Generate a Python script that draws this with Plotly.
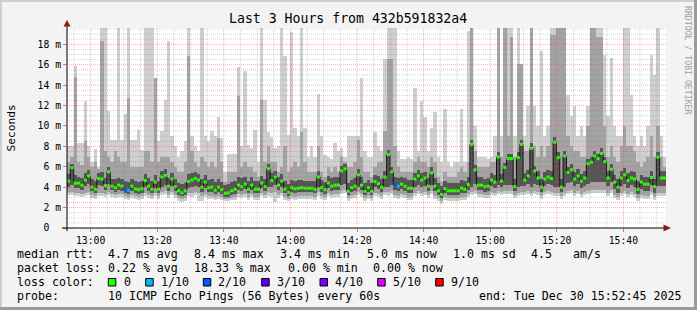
import plotly.graph_objects as go
from datetime import datetime, timedelta

# ---------------- data (one column per minute, values in ms) ----------------
median = [
 4.6,5.9,4.4,4.4,4.2,4.7,5.1,4.0,3.8,4.85, 4.8,4.15,5.5,4.1,3.95,4.2,4.1,3.8,3.7,4.1,
 3.85,3.75,3.85,4.65,4.1,3.8,4.5,3.8,5.0,5.15, 4.1,4.8,4.05,3.65,3.45,3.65,4.55,4.7,4.85,4.7,
 4.0,4.5,3.95,4.0,3.7,
 4.0,3.75,3.4,3.45,3.65, 3.8,4.2,4.05,4.3,3.8, 4.2,3.8,3.8,4.4,4.05, 5.8,4.65,5.0,4.2,4.6,
 3.8,3.5,3.95,3.85,3.9, 3.95,3.9,3.9,3.9,3.8, 5.0,3.95,3.75,4.4,4.1, 4.2,4.2,5.6,5.8,3.6,
 3.95,4.1,5.2,4.2,3.6,
 3.95,3.6,4.55,4.35,4.0, 5.0,7.2,5.5,4.25,4.1, 4.3,4.1,3.9,3.9,4.8, 5.1,4.7,4.9,4.1,5.4,
 4.1,3.65,3.3,3.85,3.65, 3.65,3.65,3.65,3.9,3.8, 4.25,8.2,5.7,4.2,4.2, 4.05,4.1,4.7,4.5,6.95,
 4.6,5.95,6.8,6.8,4.05,
 6.9,8.2,4.7,5.1,7.8, 5.6,4.9,4.0,4.8,5.0, 4.85,8.4,6.9,4.0,7.05, 5.45,5.7,4.8,5.1,4.6,
 4.9,6.3,6.45,7.05,6.8, 7.3,6.5,4.9,5.75,4.5, 4.0,4.9,5.2,4.65,4.9, 4.8,3.8,4.5,4.3,4.3,
 4.95,4.05,6.95,4.9,4.9]

loss_tenths = [0]*17 + [2, 1] + [0]*79 + [2, 1] + [0]*80

max_ping = [
 8.0,8.0,15.9,8.3,8.3, 12.4,8.0,6.5,7.7,6.0, 20,20,11.5,8.6,8.6, 20,8.6,11.2,20,8.6,
 8.6,9.6,7.6,20,20, 20,14.7,8.5,9.5,12.5, 18.3,9.0,8.0,7.0,7.5, 8.5,20,9.0,8.0,7.5,
 20,9.0,8.5,9.5,9.0,
 10.9,8.8,5.5,7.3,7.3, 7.3,15.8,8.0,15.4,8.1, 7.8,9.6,6.5,20,12.5, 9.4,8.9,7.8,8.0,20,
 16.9,9.1,19.2,9.8,9.0, 20,9.8,7.0,8.0,7.0, 13.1,9.0,7.2,7.0,6.8, 8.3,7.5,7.8,7.0,9.0,
 9.0,9.0,9.0,14.7,7.5,
 7.0,7.0,9.4,8.0,7.5, 16.6,20,20,20,7.5, 6.8,6.8,7.0,6.8,13.7, 7.5,12.4,10.9,7.5,9.8,
 11.4,7.0,6.5,11.7,6.5, 6.0,6.5,6.5,11.7,6.5, 19.3,20,10.0,7.0,7.0, 7.0,6.8,7.0,9.0,20,
 9.0,20,20,20,9.0,
 20,16,9,12,20, 12,10,17.3,9,10, 20,20,20,20,20, 13,11,12,9,10,
 9,12,20,20,20, 20,17,11,16.7,10, 9,9,20,20,13, 9,8,9,8,10,
 17,15,20,9,7]

min_ping = [
 3.2,3.2,3.1,3.1,3.0, 3.1,3.2,2.9,2.8,3.1, 3.1,3.0,3.2,3.0,2.9, 3.0,3.0,2.8,2.7,2.9,
 2.8,2.7,2.8,3.1,2.9, 2.8,3.1,2.8,3.2,3.3, 2.9,3.2,2.9,2.6,2.5, 2.6,3.1,3.0,3.2,2.6,
 2.6,3.0,2.8,2.8,2.7,
 2.8,2.7,2.6,2.6,2.7, 2.7,3.0,2.9,3.0,2.7, 3.0,2.7,2.7,3.1,2.9, 3.1,3.0,2.5,2.9,3.1,
 2.7,2.6,2.8,2.7,2.8, 2.8,2.8,2.8,2.8,2.7, 3.1,2.8,2.7,3.1,2.9, 3.0,3.0,3.3,3.4,2.6,
 2.8,2.9,3.2,3.0,2.6,
 2.8,2.6,3.1,3.0,2.8, 3.2,3.1,3.3,2.9,2.8, 3.0,2.9,2.7,2.7,3.1, 3.3,3.1,3.2,2.9,3.3,
 2.8,2.6,2.4,2.7,2.6, 2.6,2.6,2.6,2.7,2.7, 3.0,3.2,3.3,3.0,3.0, 2.9,2.9,3.2,3.1,3.3,
 3.2,3.3,3.3,3.3,2.9,
 3.1,3.2,3.2,3.3,3.1, 3.3,3.2,2.8,3.2,3.3, 3.2,3.1,3.1,2.8,3.1, 3.3,3.4,3.1,3.3,3.0,
 3.2,3.3,3.4,3.4,3.4, 3.4,3.4,3.1,3.4,2.9, 2.7,3.1,3.3,3.0,3.2, 3.0,2.6,2.9,2.8,2.8,
 3.2,2.7,3.1,3.1,3.1]

high_mid = [
 6.5,7.0,14.8,6.5,6.2, 8.5,7.0,6.0,6.5,5.8, 18.3,7.5,7.0,6.5,7.5, 7.0,6.5,6.5,12.7,6.0,
 6.0,6.0,6.0,7.5,7.5, 6.5,14.7,6.5,7.0,7.0, 7.0,6.5,6.0,5.5,5.5, 6.5,16.9,7.5,6.5,6.0,
 7.0,6.5,6.0,6.5,6.0,
 8.8,6.5,4.5,5.5,5.5, 5.5,12.9,6.0,6.5,6.0, 6.0,5.5,5.0,12.5,6.5, 8.0,6.5,6.5,5.5,6.0,
 8.0,5.5,6.0,6.5,6.0, 9.4,6.5,5.5,5.5,5.5, 8.0,5.5,5.0,6.0,5.5, 6.0,5.5,7.0,6.5,6.0,
 6.0,6.5,8.6,7.0,5.5,
 5.5,5.0,6.0,6.5,6.5, 9.5,16.6,16.6,8.0,6.0, 5.5,5.5,5.5,5.5,6.5, 7.0,6.5,6.5,6.0,7.0,
 6.5,5.0,4.5,5.5,5.0, 5.0,5.0,5.5,6.0,5.5, 6.5,20,7.5,6.0,6.0, 6.0,6.0,6.5,6.5,20,
 7.0,20,9.0,18.7,7.0,
 16.1,16.1,7.5,7.5,20, 8,7,8,7,8, 18.9,18.9,20,20,20, 9,8,7.5,7.5,7,
 7,10,20,20,18.7, 18.7,10,7,8,7, 6.5,8,10,8,8, 7.5,6.5,6,6.5,7,
 9,7,10,7,6]

low_mid = [
 3.5,3.5,3.4,3.4,3.3, 3.4,3.5,3.2,3.1,3.4, 3.4,3.3,3.5,3.3,3.2, 3.3,3.3,3.1,3.0,3.2,
 3.1,3.0,3.1,3.4,3.2, 3.1,3.4,3.1,3.5,3.6, 3.2,3.5,3.2,2.9,2.8, 2.9,3.4,3.4,3.5,3.4,
 3.1,3.3,3.1,3.1,3.0,
 3.1,3.0,2.8,2.8,2.9, 3.0,3.3,3.2,3.3,3.0, 3.3,3.0,3.0,3.4,3.2, 3.5,3.4,3.5,3.2,3.4,
 3.0,2.8,3.1,3.0,3.1, 3.1,3.1,3.1,3.1,3.0, 3.5,3.1,3.0,3.4,3.2, 3.3,3.3,3.6,3.7,2.9,
 3.1,3.2,3.5,3.3,2.9,
 3.1,2.9,3.4,3.3,3.1, 3.5,3.5,3.6,3.2,3.1, 3.3,3.2,3.0,3.0,3.4, 3.6,3.4,3.5,3.2,3.6,
 3.1,2.9,2.6,3.0,2.9, 2.9,2.9,2.9,3.0,3.0, 3.3,3.5,3.6,3.3,3.3, 3.2,3.2,3.5,3.4,3.6,
 3.5,3.6,3.6,3.6,3.2,
 3.4,3.5,3.5,3.6,3.4, 3.6,3.5,3.1,3.5,3.6, 3.5,3.4,3.4,3.1,3.4, 3.6,3.7,3.4,3.6,3.3,
 3.5,3.6,3.7,3.7,3.7, 3.7,3.7,3.4,3.7,3.2, 3.0,3.4,3.6,3.3,3.5, 3.3,2.9,3.2,3.1,3.1,
 3.5,3.0,3.4,3.4,3.4]

high_core = [
 5.3,6.3,5.2,5.0,4.9, 5.4,5.7,4.8,4.6,5.4, 5.5,4.9,6.0,4.8,4.8, 4.9,4.8,4.6,4.5,4.8,
 4.6,4.5,4.6,5.3,4.9, 4.6,5.2,4.6,5.6,5.8, 4.9,5.4,4.8,4.4,4.3, 4.4,5.3,5.4,5.5,5.3,
 4.8,5.2,4.7,4.8,4.5,
 4.8,4.5,4.2,4.3,4.5, 4.6,5.0,4.9,5.0,4.6, 5.0,4.6,4.6,5.1,4.8, 6.3,5.4,5.6,5.0,5.3,
 4.6,4.3,4.7,4.6,4.7, 4.7,4.6,4.6,4.6,4.6, 5.6,4.7,4.5,5.1,4.9, 5.0,5.0,6.1,6.3,4.4,
 4.7,4.9,5.8,5.0,4.4,
 4.7,4.4,5.2,5.1,4.8, 5.6,7.6,6.0,5.0,4.9, 5.0,4.9,4.7,4.7,5.4, 5.7,5.4,5.5,4.9,6.0,
 4.9,4.4,4.1,4.6,4.4, 4.4,4.4,4.4,4.7,4.6, 5.0,8.6,6.2,5.0,5.0, 4.8,4.9,5.4,5.2,7.4,
 5.3,6.4,7.3,7.3,4.8,
 7.4,8.6,5.4,5.7,8.3, 6.1,5.6,4.8,5.5,5.7, 5.6,8.9,7.4,4.8,7.5, 6.0,6.3,5.5,5.8,5.3,
 5.6,6.8,7.0,7.5,7.3, 7.8,7.0,5.6,6.3,5.2, 4.8,5.6,5.9,5.4,5.6, 5.5,4.6,5.2,5.0,5.0,
 5.6,4.8,7.4,5.6,5.6]

low_core = [
 4.0,4.2,3.9,3.9,3.7, 4.1,4.3,3.6,3.4,4.2, 4.1,3.7,4.3,3.7,3.5, 3.7,3.6,3.4,3.3,3.6,
 3.4,3.3,3.4,4.0,3.6, 3.4,3.9,3.4,4.0,4.2, 3.6,4.1,3.6,3.2,3.1, 3.2,3.9,4.0,4.1,4.0,
 3.5,3.9,3.5,3.5,3.3,
 3.5,3.3,3.0,3.0,3.2, 3.3,3.7,3.6,3.8,3.4, 3.7,3.4,3.4,3.9,3.6, 4.0,4.0,4.2,3.7,4.0,
 3.4,3.1,3.5,3.4,3.5, 3.5,3.5,3.5,3.5,3.4, 4.0,3.5,3.3,3.9,3.6, 3.7,3.7,4.2,4.3,3.2,
 3.5,3.6,4.0,3.7,3.2,
 3.5,3.2,4.0,3.8,3.5, 4.0,4.0,4.2,3.7,3.6, 3.8,3.6,3.4,3.4,4.0, 4.2,4.0,4.1,3.6,4.2,
 3.6,3.2,2.9,3.4,3.2, 3.2,3.2,3.2,3.4,3.4, 3.7,4.0,4.3,3.7,3.7, 3.5,3.6,4.1,3.9,4.2,
 4.0,4.2,4.2,4.2,3.6,
 4.0,4.1,4.1,4.3,4.0, 4.3,4.2,3.5,4.1,4.3, 4.2,4.0,4.0,3.5,4.0, 4.4,4.5,4.1,4.3,3.9,
 4.1,4.3,4.5,4.5,4.5, 4.5,4.5,4.1,4.5,3.8, 3.4,4.1,4.3,3.9,4.2, 4.0,3.3,3.8,3.6,3.6,
 4.2,3.4,4.1,4.1,4.1]

y_tick_values = [0, 2, 4, 6, 8, 10, 12, 14, 16, 18]
y_tick_labels = ["0\u00a0\u00a0", "2 m", "4 m", "6 m", "8 m", "10 m", "12 m", "14 m", "16 m", "18 m"]

loss_levels = [0, 1, 2, 3, 4, 5, 9]
loss_labels = ["0", "1/10", "2/10", "3/10", "4/10", "5/10", "9/10"]
loss_colors = ["#26ff00", "#00b8ff", "#0059ff", "#5e00ff", "#7e00ff", "#dd00ff", "#ff0000"]

title_text = "Last 3 Hours from 432b591832a4"
row_median = [("median rtt:", 16), ("4.7 ms avg", 107.3), ("8.4 ms max", 193.3), ("3.4 ms min", 279.3),
              ("5.0 ms now", 365.7), ("1.0 ms sd", 451.7), ("4.5", 530), ("am/s", 572.3)]
row_loss = [("packet loss:", 16), ("0.22 % avg", 107.3), ("18.33 % max", 193.3), ("0.00 % min", 287.3),
            ("0.00 % now", 372.3)]
row_probe = [("probe:", 16), ("10 ICMP Echo Pings (56 Bytes) every 60s", 107.3),
             ("end: Tue Dec 30 15:52:45 2025", 478.3)]

# ---------------- geometry helpers ----------------
W, H = 697, 310
L, R, T, B = 67, 666, 28, 228
PW, PH = R - L, B - T
def px(x):
    return (x - L) / PW
def py(y):
    return (B - y) / PH

MONO = "DejaVu Sans Mono"
start = datetime(2025, 12, 30, 12, 52, 54)
x_end = datetime(2025, 12, 30, 15, 52, 48)
n = len(median)
starts = [start + timedelta(minutes=i) for i in range(n)]
centers = [s + timedelta(seconds=30) for s in starts]
Y_TOP = 19.6

fig = go.Figure()

bands = [(min_ping, max_ping, "#cfcfcf"), (low_mid, high_mid, "#a3a3a3"), (low_core, high_core, "#555555")]
for lo, hi, col in bands:
    fig.add_trace(go.Bar(x=centers, y=[h - l for l, h in zip(lo, hi)], base=lo, width=60000,
                         marker=dict(color=col, line=dict(width=0)), hoverinfo="skip"))

# median step line (dark connectors)
fig.add_trace(go.Scatter(x=starts + [starts[-1] + timedelta(minutes=1)], y=median + [median[-1]],
                         mode="lines", line=dict(color="#111111", width=1, shape="hv"), hoverinfo="skip"))

# coloured median segments by loss
for lvl, col in zip(loss_levels, loss_colors):
    xs, ys = [], []
    for i in range(n):
        if loss_tenths[i] == lvl:
            xs += [starts[i], starts[i] + timedelta(minutes=1), None]
            ys += [median[i], median[i], None]
    if xs:
        fig.add_trace(go.Scatter(x=xs, y=ys, mode="lines", line=dict(color=col, width=3),
                                 hoverinfo="skip"))

shapes = []
dot = "1px,1px"
MAJ = "rgba(255,60,60,0.42)"
MIN = "rgba(120,120,120,0.32)"
# minor grid x (every 5 min), major (every 20 min)
t = datetime(2025, 12, 30, 12, 55)
while t < x_end:
    major = (t.minute % 20 == 0)
    shapes.append(dict(type="line", xref="x", yref="y", x0=t, x1=t, y0=0, y1=Y_TOP, layer="above",
                       line=dict(color=MAJ if major else MIN, width=1, dash=dot)))
    t += timedelta(minutes=5)
v = 0.5
while v < Y_TOP:
    major = abs(v / 2 - round(v / 2)) < 1e-9
    shapes.append(dict(type="line", xref="paper", yref="y", x0=0, x1=1, y0=v, y1=v, layer="above",
                       line=dict(color=MAJ if major else MIN, width=1, dash=dot)))
    v += 0.5

# axes lines and arrows
shapes.append(dict(type="line", xref="paper", yref="paper", x0=px(62), x1=px(667), y0=0, y1=0,
                   line=dict(color="black", width=1), layer="above"))
shapes.append(dict(type="line", xref="paper", yref="paper", x0=0, x1=0, y0=py(231), y1=py(25),
                   line=dict(color="black", width=1), layer="above"))
shapes.append(dict(type="path", xref="paper", yref="paper",
                   path=f"M {px(663.5)},{py(224.5)} L {px(671)},{py(228)} L {px(663.5)},{py(231.5)} Z",
                   fillcolor="#8b1a1a", line=dict(width=0), layer="above"))
shapes.append(dict(type="path", xref="paper", yref="paper",
                   path=f"M {px(63.5)},{py(26.5)} L {px(67)},{py(20)} L {px(70.5)},{py(26.5)} Z",
                   fillcolor="#8b1a1a", line=dict(width=0), layer="above"))

# frame of the image
shapes.append(dict(type="rect", xref="paper", yref="paper", x0=px(0), x1=px(697), y0=py(0), y1=py(2),
                   fillcolor="#cfcfcf", line=dict(width=0), layer="above"))
shapes.append(dict(type="rect", xref="paper", yref="paper", x0=px(0), x1=px(2), y0=py(0), y1=py(310),
                   fillcolor="#cfcfcf", line=dict(width=0), layer="above"))
shapes.append(dict(type="rect", xref="paper", yref="paper", x0=px(694), x1=px(697), y0=py(0), y1=py(310),
                   fillcolor="#9b9b9b", line=dict(width=0), layer="above"))
shapes.append(dict(type="rect", xref="paper", yref="paper", x0=px(0), x1=px(697), y0=py(307), y1=py(310),
                   fillcolor="#9b9b9b", line=dict(width=0), layer="above"))

# loss colour squares
sq_x = [108.3, 145.7, 203.3, 261.7, 320.0, 377.7, 435.7]
lab_x = [123, 160, 217.3, 276, 334.3, 392.3, 450]
for sx, col in zip(sq_x, loss_colors):
    shapes.append(dict(type="rect", xref="paper", yref="paper", x0=px(sx), x1=px(sx + 7.5),
                       y0=py(286), y1=py(278.5), fillcolor=col, line=dict(color="black", width=1)))

annotations = []
def txt(s, x, y, size=11.6, color="black", anchor="left", angle=0):
    annotations.append(dict(text=s, x=px(x), y=py(y), xref="paper", yref="paper", showarrow=False,
                            xanchor=anchor, yanchor="middle", borderpad=0, textangle=angle,
                            font=dict(family=MONO, size=size, color=color)))

txt(title_text, 348, 18.5, size=13.2, anchor="center")
txt("Seconds", 10.5, 128, size=11.2, anchor="center", angle=-90)
txt("RRDTOOL / TOBI OETIKER", 688, 60, size=8.2, color="#a0a0a0", anchor="center", angle=90)
for s, x in row_median:
    txt(s, x, 254.3)
for s, x in row_loss:
    txt(s, x, 268.3)
txt("loss color:", 16, 282.3)
for s, x in zip(loss_labels, lab_x):
    txt(s, x, 282.3)
for s, x in row_probe:
    txt(s, x, 296.3)

fig.update_layout(
    width=W, height=H, margin=dict(l=L, r=W - R, t=T, b=H - B),
    paper_bgcolor="#f3f3f3", plot_bgcolor="white", barmode="overlay", bargap=0,
    showlegend=False, shapes=shapes, annotations=annotations,
    xaxis=dict(type="date", range=[start, x_end], tick0="2025-12-30 13:00:00", dtick=1200000,
               tickformat="%H:%M", ticks="outside", ticklen=3, tickcolor="#e07070",
               showgrid=False, zeroline=False, showline=False,
               tickfont=dict(family=MONO, size=9.75, color="black")),
    yaxis=dict(range=[0, Y_TOP], tickmode="array", tickvals=y_tick_values, ticktext=y_tick_labels,
               ticks="outside", ticklen=3, tickcolor="#e07070", showgrid=False, zeroline=False,
               showline=False, tickfont=dict(family=MONO, size=9.75, color="black")),
)

fig.write_html("out.html")
